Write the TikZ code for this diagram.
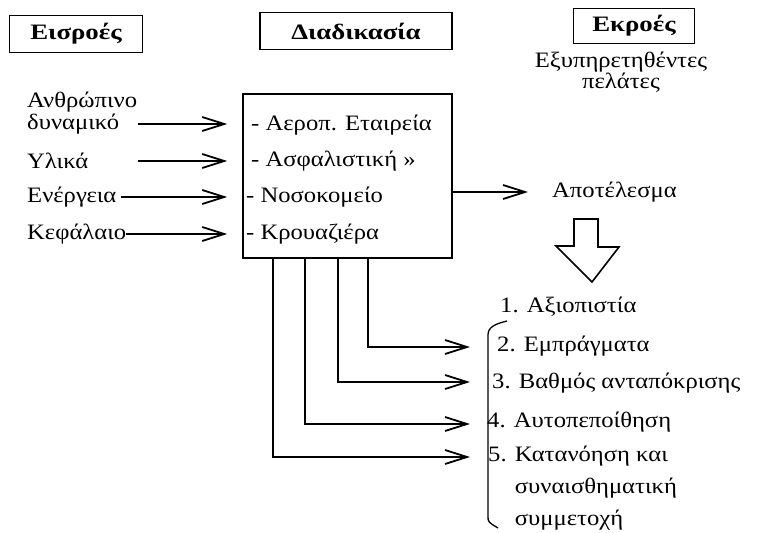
\documentclass[tikz,border=0pt]{standalone}
\usepackage{fontspec}
\setmainfont[FakeStretch=1.12]{Liberation Serif}
\newfontfamily\headfont[FakeStretch=1.22]{Liberation Serif}
\usetikzlibrary{arrows.meta}
\begin{document}
\begin{tikzpicture}[x=1pt,y=-1pt,
  every node/.style={font=\fontsize{22}{26}\selectfont, inner sep=0pt},
  head/.style={draw, line width=1.6pt, font=\headfont\fontsize{22}{26}\selectfont\bfseries, inner sep=0pt},
  lbl/.style={anchor=west},
  link/.style={line width=1.6pt},
  arr/.style={link, -{Straight Barb[length=22pt,width=14pt,line width=1.8pt]}},
]
\useasboundingbox[fill=white] (0,0) rectangle (761,533);

% column headings
\node[head, minimum width=133pt, minimum height=37pt] (hin)   at (76,34)  {Εισροές};
\node[head, minimum width=192pt, minimum height=37pt] (hproc) at (356,31) {Διαδικασία};
\node[head, minimum width=121pt, minimum height=35pt] (hout)  at (634,26) {Εκροές};

% process box with its services
\node[draw, line width=1.6pt, minimum width=209pt, minimum height=164pt] (proc) at (347.5,176) {};
\node[lbl] (s1) at (251,125) {- Αεροπ. Εταιρεία};
\node[lbl] (s2) at (251,161) {- Ασφαλιστική »};
\node[lbl] (s3) at (246,197) {- Νοσοκομείο};
\node[lbl] (s4) at (246,234) {- Κρουαζιέρα};

% inputs
\node[anchor=south west, align=left, font=\fontsize{22}{18}\selectfont] (i1) at (27,134)
  {Ανθρώπινο\\δυναμικό};
\node[lbl] (i2) at (27,161) {Υλικά};
\node[lbl] (i3) at (27,197) {Ενέργεια};
\node[lbl] (i4) at (27,234) {Κεφάλαιο};

\coordinate (i1end) at (i1.south east);
\draw[arr, shorten >=15pt] ([xshift=1pt]i1end |- 0,124) -- (proc.west |- 0,124);
\draw[arr, shorten >=15pt] ([xshift=1pt]i1end |- i2) -- (i2 -| proc.west);
\draw[arr, shorten >=15pt] ([xshift=4pt]i3.east) -- (i3 -| proc.west);
\draw[arr, shorten >=15pt] (i4.east) -- (i4 -| proc.west);

% outputs
\node[align=center, font=\fontsize{22}{20}\selectfont] (cust) at (621,72) {Εξυπηρετηθέντες\\πελάτες};
\node[lbl] (res) at (552,192) {Αποτέλεσμα};
\draw[arr, shorten >=24pt] (proc.east |- res) -- (res.west);

% hollow arrow pointing to the quality dimensions
\draw[line width=1.6pt, line join=miter]
  (574,219) -- (598,219) -- (598,247) -- (619,247) -- (592,282)
  -- (556,246) -- (574,246) -- cycle;

% quality dimensions
\node[lbl] (q1) at (500,307) {1. Αξιοπιστία};
\node[lbl] (q2) at (497,346) {2. Εμπράγματα};
\node[lbl] (q3) at (492,383) {3. Βαθμός ανταπόκρισης};
\node[lbl] (q4) at (487,422) {4. Αυτοπεποίθηση};
\node[lbl, anchor=north west, align=left, font=\fontsize{22}{32}\selectfont] (q5) at (488,446)
  {5. Κατανόηση και\\\hphantom{5. }συναισθηματική\\\hphantom{5. }συμμετοχή};

% brace grouping dimensions 2 to 5
\draw[line width=1.3pt] (507,321) .. controls (495,324) and (488,327) .. (488,335)
  -- (488,516) .. controls (488,522) .. (498,528);

% feedback lines from the process box
\coordinate (b5) at (273,258);
\coordinate (b4) at (305,258);
\coordinate (b3) at (338,258);
\coordinate (b2) at (368,258);
\coordinate (t5) at (470,457);
\coordinate (t4) at (470,424);
\coordinate (t3) at (470,382);
\coordinate (t2) at (470,347);
\draw[arr] (b2) |- (t2);
\draw[arr] (b3) |- (t3);
\draw[arr] (b4) |- (t4);
\draw[arr] (b5) |- (t5);
\end{tikzpicture}
\end{document}
